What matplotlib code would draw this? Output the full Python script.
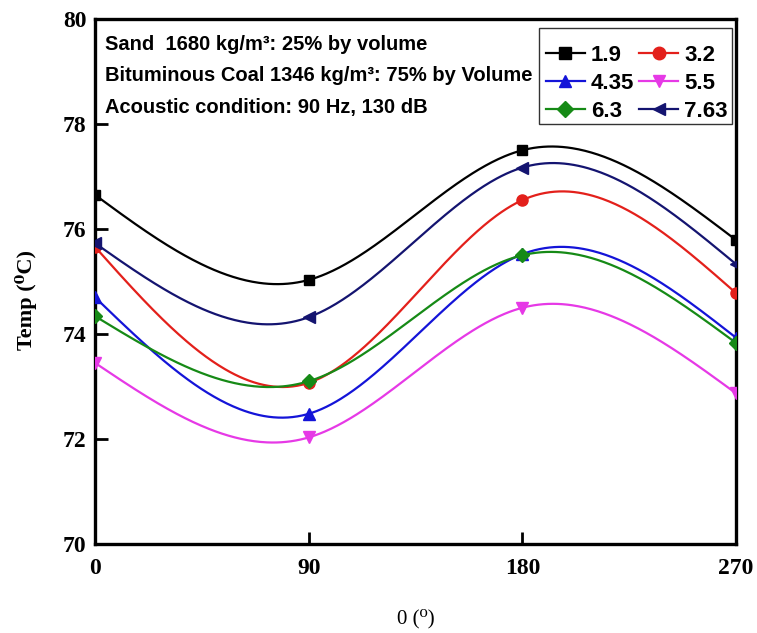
import numpy as np
import matplotlib
matplotlib.use("Agg")
import matplotlib.pyplot as plt
from matplotlib.lines import Line2D
from matplotlib.patches import Rectangle

# Angular positions (degrees) and temperatures (°C) for each series
angles = [0, 90, 180, 270]
series_labels = ["1.9", "3.2", "4.35", "5.5", "6.3", "7.63"]
temp_1_9 = [76.65, 75.03, 77.50, 75.79]
temp_3_2 = [75.66, 73.07, 76.55, 74.78]
temp_4_35 = [74.70, 72.48, 75.52, 73.93]
temp_5_5 = [73.45, 72.03, 74.50, 72.87]
temp_6_3 = [74.34, 73.10, 75.50, 73.83]
temp_7_63 = [75.73, 74.32, 77.17, 75.33]

series_values = [temp_1_9, temp_3_2, temp_4_35, temp_5_5, temp_6_3, temp_7_63]
colors = ["#000000", "#e3201b", "#1414d8", "#e639e6", "#168a16", "#141470"]
markers = ["s", "o", "^", "v", "D", "<"]
msizes = [7, 8, 8, 8, 7, 8]


def natural_spline(x, y, xs):
    """Natural cubic spline through (x, y), evaluated at xs."""
    x = np.asarray(x, float)
    y = np.asarray(y, float)
    n = len(x)
    h = np.diff(x)
    A = np.zeros((n, n))
    b = np.zeros(n)
    A[0, 0] = A[-1, -1] = 1.0
    for i in range(1, n - 1):
        A[i, i - 1] = h[i - 1]
        A[i, i] = 2 * (h[i - 1] + h[i])
        A[i, i + 1] = h[i]
        b[i] = 6 * ((y[i + 1] - y[i]) / h[i] - (y[i] - y[i - 1]) / h[i - 1])
    M = np.linalg.solve(A, b)
    out = np.empty_like(xs, dtype=float)
    for k, xv in enumerate(xs):
        i = min(max(np.searchsorted(x, xv) - 1, 0), n - 2)
        t0 = x[i + 1] - xv
        t1 = xv - x[i]
        out[k] = (M[i] * t0 ** 3 / (6 * h[i]) + M[i + 1] * t1 ** 3 / (6 * h[i])
                  + (y[i] / h[i] - M[i] * h[i] / 6) * t0
                  + (y[i + 1] / h[i] - M[i + 1] * h[i] / 6) * t1)
    return out


W, H = 757, 633
AX_L, AX_R, AX_T, AX_B = 95, 736, 19, 544
AW, AH = AX_R - AX_L, AX_B - AX_T
fig = plt.figure(figsize=(W / 100, H / 100), dpi=100)
ax = fig.add_axes([AX_L / W, 1 - AX_B / H, AW / W, AH / H])


def ax_frac(px, py):
    """Pixel position in the figure -> axes fraction."""
    return (px - AX_L) / AW, (AX_B - py) / AH


xs = np.linspace(0, 270, 400)
handles = []
for vals, c, m, ms, lab in zip(series_values, colors, markers, msizes, series_labels):
    ax.plot(xs, natural_spline(angles, vals, xs), color=c, lw=1.6, zorder=2)
    ax.plot(angles, vals, linestyle="none", marker=m, ms=ms, color=c,
            markeredgecolor=c, zorder=3)
    handles.append(Line2D([], [], color=c, lw=1.6, marker=m, ms=ms + 1, label=lab))

ax.set_xlim(0, 270)
ax.set_ylim(70, 80)
ax.set_xticks([0, 90, 180, 270])
ax.set_yticks([70, 72, 74, 76, 78, 80])

serif = ["Liberation Serif", "DejaVu Serif"]
for lbl in ax.get_xticklabels() + ax.get_yticklabels():
    lbl.set_family(serif)
    lbl.set_fontweight("bold")
    lbl.set_fontsize(17)

ax.tick_params(axis="both", direction="in", length=9, width=2, top=False, right=False)
ax.tick_params(axis="x", pad=10)
ax.tick_params(axis="y", pad=6)
for s in ax.spines.values():
    s.set_linewidth(2.4)

ax.set_ylabel("Temp (\u2070C)", family=serif, fontweight="bold", fontsize=16)
ax.yaxis.set_label_coords(*ax_frac(37, 300))
ax.set_xlabel("0 (\u2070)", family=serif, fontsize=15, labelpad=22)

# Material and acoustic condition notes
notes = [
    "Sand  1680 kg/m\u00b3: 25% by volume",
    "Bituminous Coal 1346 kg/m\u00b3: 75% by Volume",
    "Acoustic condition: 90 Hz, 130 dB",
]
for i, line in enumerate(notes):
    ax.text(*ax_frac(105, 44 + 31.5 * i), line, transform=ax.transAxes,
            family=["Liberation Sans", "DejaVu Sans"], fontsize=14.5,
            fontweight="bold", va="center", ha="left")

# Legend frame drawn as its own box, entries placed inside it
x0, y0 = ax_frac(539, 124)
x1, y1 = ax_frac(732, 28)
ax.add_patch(Rectangle((x0, y0), x1 - x0, y1 - y0, transform=ax.transAxes,
                       facecolor="white", edgecolor="#333333", lw=1.0, zorder=4))

order = [0, 2, 4, 1, 3, 5]
leg = ax.legend([handles[i] for i in order], [series_labels[i] for i in order],
                ncol=2, loc="upper left", bbox_to_anchor=ax_frac(546, 45),
                frameon=False, borderaxespad=0, borderpad=0,
                handlelength=1.75, handletextpad=0.28,
                columnspacing=0.22, labelspacing=0.32,
                prop={"family": ["Liberation Sans", "DejaVu Sans"], "weight": "bold", "size": 16})
leg.set_zorder(5)

fig.savefig("out.png", dpi=100)
